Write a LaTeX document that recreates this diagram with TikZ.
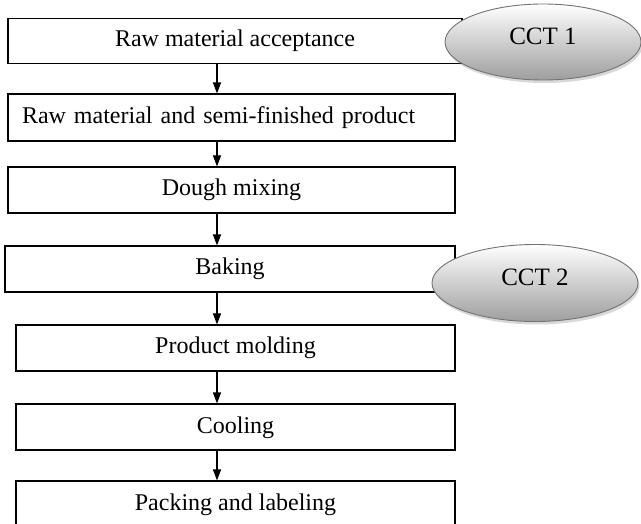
\documentclass[tikz,border=0pt]{standalone}
\usepackage{fontspec}
\setmainfont{Liberation Serif}
\usetikzlibrary{arrows.meta,shapes.geometric,shadows}

\begin{document}
\begin{tikzpicture}[x=1pt,y=-1pt,>={Triangle[length=11pt,width=8pt]},
	procbox/.style={draw,line width=1.1pt,minimum height=46pt,inner sep=0pt,
		text height=16pt,text depth=4pt,font=\fontsize{24}{28}\selectfont},
	cct/.style={ellipse,draw=black!55,line width=0.9pt,top color=white,bottom color=black!38,
		drop shadow={shadow xshift=1.5pt,shadow yshift=-3pt,opacity=0.3},
		inner sep=0pt,text height=16pt,text depth=10pt,font=\fontsize{25}{30}\selectfont}]
			\clip (0,0) rectangle (641,524);
			\fill[white] (0,0) rectangle (641,524);
			% process steps
			\node[procbox,minimum width=454pt,minimum height=45pt] (accept) at (235,41) {Raw material acceptance};
			\node[procbox,minimum height=47pt,text width=419pt,inner xsep=14pt,align=left] (prep) at (231.5,117.5) {Raw material and semi-finished product};
			\node[procbox,minimum width=447pt] (mix) at (231.5,190) {Dough mixing};
			\node[procbox,minimum width=450pt] (bake) at (230,269) {Baking};
			\node[procbox,minimum width=439pt] (mold) at (235.5,348) {Product molding};
			\node[procbox,minimum width=439pt] (cool) at (235.5,427) {Cooling};
			\node[procbox,minimum width=439pt] (pack) at (235.5,504) {Packing and labeling};
			% flow
			\coordinate (ax) at (217,0);
			\foreach \a/\b in {accept/prep,prep/mix,mix/bake,bake/mold,mold/cool,cool/pack}
				\draw[->,line width=1.1pt] (\a.south -| ax) -- (\b.north -| ax);
			% critical control points
			\node[cct,minimum width=196pt,minimum height=76pt] (cct1) at (543,42) {CCT 1};
			\node[cct,minimum width=206pt,minimum height=77pt] (cct2) at (535,283) {CCT 2};
\end{tikzpicture}
\end{document}
